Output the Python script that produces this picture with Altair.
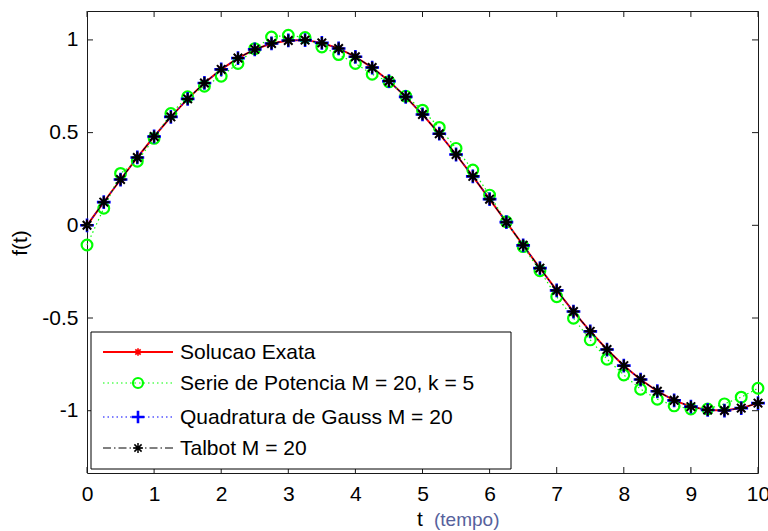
import altair as alt
import pandas as pd

# ---- data ----
t_vals = [0, 0.25, 0.5, 0.75, 1, 1.25, 1.5, 1.75, 2, 2.25, 2.5, 2.75, 3, 3.25, 3.5,
          3.75, 4, 4.25, 4.5, 4.75, 5, 5.25, 5.5, 5.75, 6, 6.25, 6.5, 6.75, 7, 7.25,
          7.5, 7.75, 8, 8.25, 8.5, 8.75, 9, 9.25, 9.5, 9.75, 10]

exata = [0.000, 0.125, 0.247, 0.366, 0.479, 0.585, 0.682, 0.768, 0.841, 0.902, 0.949,
         0.981, 0.997, 0.999, 0.984, 0.954, 0.909, 0.851, 0.778, 0.693, 0.598, 0.494,
         0.382, 0.264, 0.141, 0.017, -0.108, -0.231, -0.351, -0.465, -0.572, -0.670,
         -0.757, -0.832, -0.895, -0.944, -0.978, -0.996, -0.999, -0.986, -0.959]

serie = [-0.106, 0.092, 0.280, 0.346, 0.469, 0.603, 0.693, 0.750, 0.804, 0.873, 0.953,
         1.016, 1.025, 1.013, 0.962, 0.921, 0.873, 0.815, 0.774, 0.697, 0.621, 0.528,
         0.415, 0.298, 0.163, 0.019, -0.115, -0.245, -0.385, -0.501, -0.618, -0.722,
         -0.807, -0.884, -0.938, -0.974, -0.991, -0.991, -0.963, -0.927, -0.879]

gauss = [0.000, 0.125, 0.247, 0.366, 0.479, 0.585, 0.682, 0.768, 0.841, 0.902, 0.949,
         0.981, 0.997, 0.999, 0.984, 0.954, 0.909, 0.851, 0.778, 0.693, 0.598, 0.494,
         0.382, 0.264, 0.141, 0.017, -0.108, -0.231, -0.351, -0.465, -0.572, -0.670,
         -0.757, -0.832, -0.895, -0.944, -0.978, -0.996, -0.999, -0.986, -0.959]

talbot = [0.000, 0.125, 0.247, 0.366, 0.479, 0.585, 0.682, 0.768, 0.841, 0.902, 0.949,
          0.981, 0.997, 0.999, 0.984, 0.954, 0.909, 0.851, 0.778, 0.693, 0.598, 0.494,
          0.382, 0.264, 0.141, 0.017, -0.108, -0.231, -0.351, -0.465, -0.572, -0.670,
          -0.757, -0.832, -0.895, -0.944, -0.978, -0.996, -0.999, -0.986, -0.959]

x_ticks = [0, 1, 2, 3, 4, 5, 6, 7, 8, 9, 10]
y_ticks = [-1, -0.5, 0, 0.5, 1]
x_domain = [0, 10]
y_domain = [-1.336, 1.156]

legend_labels = ["Solucao Exata", "Serie de Potencia M = 20, k = 5",
                 "Quadratura de Gauss M = 20", "Talbot M = 20"]
x_title = "t"
x_title_extra = "(tempo)"
y_title = "f(t)"

# ---- styling ----
W, H = 671, 462
FONT = "Liberation Sans"
FS = 21
AX = "#1a1a1a"
STAR = "M-1,0L1,0M0,-1L0,1M-0.72,-0.72L0.72,0.72M-0.72,0.72L0.72,-0.72"
PLUS = "M-1,0L1,0M0,-1L0,1"

df = pd.DataFrame({"t": t_vals, "exata": exata, "serie": serie,
                   "gauss": gauss, "talbot": talbot})
xt = pd.DataFrame({"v": x_ticks})
yt = pd.DataFrame({"v": y_ticks})
one = pd.DataFrame({"k": [0]})

xscale = alt.Scale(domain=x_domain, nice=False, zero=False)
yscale = alt.Scale(domain=y_domain, nice=False, zero=False)
xaxis = alt.Axis(values=x_ticks, title=None, labelPadding=10, format="d",
                 labelFlush=False, labelOverlap=False, labelBound=False)
yaxis = alt.Axis(values=y_ticks, title=None, labelPadding=9,
                 labelFlush=False, labelOverlap=False, labelBound=False,
                 labelExpr="replace(format(datum.value, '~g'), '\u2212', '-')")


def X(f):
    return alt.X(f"{f}:Q", scale=xscale, axis=xaxis)


def Y(f):
    return alt.Y(f"{f}:Q", scale=yscale, axis=yaxis)


base = alt.Chart(df)
layers = []
# exact solution
layers.append(base.mark_line(color="#ff0000", strokeWidth=2).encode(x=X("t"), y=Y("exata")))
layers.append(base.mark_point(shape=STAR, color="#ff0000", size=80, strokeWidth=1.6,
                              filled=False, opacity=1).encode(x=X("t"), y=Y("exata")))
# power series
layers.append(base.mark_line(color="#00ff00", strokeWidth=1.2, strokeDash=[1.5, 3]).encode(x=X("t"), y=Y("serie")))
layers.append(base.mark_point(shape="circle", color="#00ff00", size=115, strokeWidth=2.2,
                              filled=False, opacity=1).encode(x=X("t"), y=Y("serie")))
# gauss
layers.append(base.mark_line(color="#0000ff", strokeWidth=1.2, strokeDash=[1.5, 3]).encode(x=X("t"), y=Y("gauss")))
layers.append(base.mark_point(shape=PLUS, color="#0000ff", size=190, strokeWidth=2.6,
                              filled=False, opacity=1).encode(x=X("t"), y=Y("gauss")))
# talbot
layers.append(base.mark_line(color="#000000", strokeWidth=1, strokeDash=[8, 3, 1.5, 3]).encode(x=X("t"), y=Y("talbot")))
layers.append(base.mark_point(shape=STAR, color="#000000", size=140, strokeWidth=2,
                              filled=False, opacity=1).encode(x=X("t"), y=Y("talbot")))

# inward ticks (box on all sides)
TL = 6
layers.append(alt.Chart(xt).mark_rule(color=AX, strokeWidth=1).encode(
    x=X("v"), y=alt.value(H), y2=alt.value(H - TL)))
layers.append(alt.Chart(xt).mark_rule(color=AX, strokeWidth=1).encode(
    x=X("v"), y=alt.value(0), y2=alt.value(TL)))
layers.append(alt.Chart(yt).mark_rule(color=AX, strokeWidth=1).encode(
    y=Y("v"), x=alt.value(0), x2=alt.value(TL)))
layers.append(alt.Chart(yt).mark_rule(color=AX, strokeWidth=1).encode(
    y=Y("v"), x=alt.value(W - TL), x2=alt.value(W)))

# legend
ob = alt.Chart(one)
LX0, LX1, LY0, LY1 = 4, 424, 321, 458
rows = [341, 372, 406, 437]
S0, S1, SM, TX = 16, 86, 51, 93
layers.append(ob.mark_rect(fill="white", stroke="black", strokeWidth=1).encode(
    x=alt.value(LX0), x2=alt.value(LX1), y=alt.value(LY0), y2=alt.value(LY1)))

leg_styles = [
    dict(color="#ff0000", width=2, dash=None, shape=STAR, size=55, sw=1.6),
    dict(color="#00ff00", width=1.2, dash=[1.5, 3], shape="circle", size=100, sw=2.2),
    dict(color="#0000ff", width=1.2, dash=[1.5, 3], shape=PLUS, size=160, sw=2.6),
    dict(color="#000000", width=1, dash=[8, 3, 1.5, 3], shape=STAR, size=100, sw=1.5),
]
for lab, ry, st in zip(legend_labels, rows, leg_styles):
    kw = dict(color=st["color"], strokeWidth=st["width"])
    if st["dash"] is not None:
        kw["strokeDash"] = st["dash"]
    layers.append(ob.mark_rule(**kw).encode(
        x=alt.value(S0), x2=alt.value(S1), y=alt.value(ry)))
    layers.append(ob.mark_point(shape=st["shape"], color=st["color"], size=st["size"],
                                strokeWidth=st["sw"], filled=False, opacity=1).encode(
        x=alt.value(SM), y=alt.value(ry)))
    layers.append(ob.mark_text(text=lab, align="left", baseline="middle", font=FONT,
                               fontSize=FS, color="black").encode(
        x=alt.value(TX), y=alt.value(ry + 1)))

# axis titles
layers.append(ob.mark_text(text=y_title, angle=270, align="center", baseline="middle",
                           font=FONT, fontSize=FS, color="black").encode(
    x=alt.value(-66), y=alt.value(232)))
layers.append(ob.mark_text(text=x_title, align="left", baseline="middle",
                           font=FONT, fontSize=FS, color="black").encode(
    x=alt.value(330), y=alt.value(509)))
layers.append(ob.mark_text(text=x_title_extra, align="left", baseline="middle",
                           font=FONT, fontSize=19, color="#56619c").encode(
    x=alt.value(347), y=alt.value(509)))

chart = alt.layer(*layers).properties(
    width=W, height=H,
    autosize=alt.AutoSizeParams(type="none"),
    padding={"left": 87, "top": 11, "right": 10, "bottom": 58},
    background="white",
).configure_view(
    stroke=AX, strokeWidth=1
).configure_axis(
    labelFont=FONT, labelFontSize=FS, labelColor="black", grid=False,
    domain=False, ticks=False, tickSize=0
)

chart.save("out.html", embed_options={"renderer": "svg", "actions": False})
